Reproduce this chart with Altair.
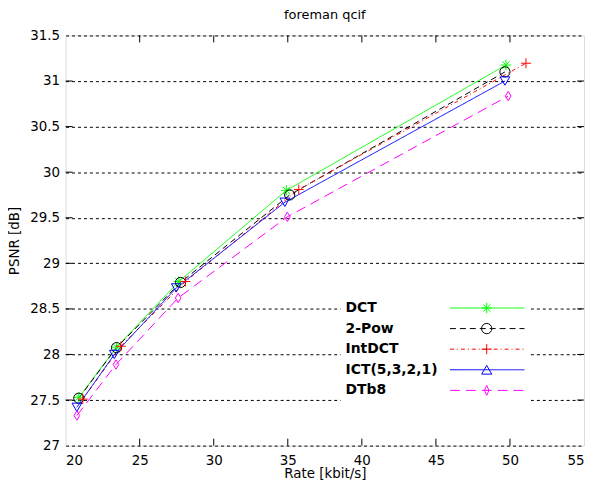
import altair as alt
import pandas as pd

# ---------------- data ----------------
methods = ["DCT", "2-Pow", "IntDCT", "ICT(5,3,2,1)", "DTb8"]
rate_dct = [20.90, 23.44, 27.64, 34.90, 49.73]
psnr_dct = [27.53, 28.08, 28.80, 29.80, 31.175]
rate_2pow = [20.89, 23.44, 27.76, 35.13, 49.66]
psnr_2pow = [27.52, 28.075, 28.79, 29.75, 31.10]
rate_int = [21.16, 23.73, 28.09, 35.74, 51.08]
psnr_int = [27.51, 28.09, 28.80, 29.81, 31.195]
rate_ict = [20.76, 23.29, 27.47, 34.80, 49.66]
psnr_ict = [27.42, 28.00, 28.73, 29.67, 31.00]
rate_dtb8 = [20.76, 23.40, 27.60, 34.97, 49.88]
psnr_dtb8 = [27.33, 27.89, 28.62, 29.51, 30.835]
x_ticks = [20, 25, 30, 35, 40, 45, 50, 55]
y_ticks = [27, 27.5, 28, 28.5, 29, 29.5, 30, 30.5, 31, 31.5]

series = [(rate_dct, psnr_dct), (rate_2pow, psnr_2pow), (rate_int, psnr_int),
          (rate_ict, psnr_ict), (rate_dtb8, psnr_dtb8)]
rows = []
for m, (rs, ps) in zip(methods, series):
    for r, p in zip(rs, ps):
        rows.append({"method": m, "rate": r, "psnr": p})
df = pd.DataFrame(rows)

# ---------------- styles ----------------
colors = ["#00ff00", "#000000", "#ff0000", "#0000ff", "#ff00ff"]
dashes = [[1, 0], [6, 4], [4, 3, 1, 3], [1, 0], [10, 6]]
star = "M-1,0L1,0M0,-1L0,1M-0.7,-0.7L0.7,0.7M-0.7,0.7L0.7,-0.7"
plus = "M-1,0L1,0M0,-1L0,1"
diam = "M0,-1L0.6,0L0,1L-0.6,0Z"
tall_diam = "M0,-1L0.45,0L0,1L-0.45,0Z"
plot_shapes = [star, "circle", plus, "triangle-down", diam]
plot_sizes = [110, 90, 120, 130, 160]
leg_shapes = [star, "circle", plus, "triangle-up", tall_diam]
leg_sizes = [110, 100, 170, 200, 480]

FONT = "DejaVu Sans"
W, H = 522, 413

xs = alt.Scale(domain=[20, 55], nice=False, zero=False)
ys = alt.Scale(domain=[27, 31.5], nice=False, zero=False)
color = alt.Color("method:N", scale=alt.Scale(domain=methods, range=colors), legend=None)
dash = alt.StrokeDash("method:N", scale=alt.Scale(domain=methods, range=dashes), legend=None)

x_enc = alt.X("rate:Q", scale=xs, axis=alt.Axis(
    values=x_ticks, ticks=False, domain=False, grid=False,
    labelFont=FONT, labelFontSize=13.5, labelColor="black", labelPadding=8,
    title="Rate [kbit/s]", titleFont=FONT, titleFontSize=13.5, titleFontWeight="normal",
    titleColor="black", titlePadding=0))
y_enc = alt.Y("psnr:Q", scale=ys, axis=alt.Axis(
    values=y_ticks, format="~g", ticks=False, domain=False, grid=True,
    gridDash=[3, 3], gridColor="black", gridOpacity=1, gridWidth=1,
    labelFont=FONT, labelFontSize=13.5, labelColor="black", labelPadding=6,
    title="PSNR [dB]", titleFont=FONT, titleFontSize=13.5, titleFontWeight="normal",
    titleColor="black", titlePadding=8))

lines = alt.Chart(df).mark_line(strokeWidth=1).encode(
    x=x_enc, y=y_enc, color=color, strokeDash=dash)

points = alt.Chart(df).mark_point(filled=False, strokeWidth=1, opacity=1).encode(
    x="rate:Q", y="psnr:Q", color=color,
    shape=alt.Shape("method:N", scale=alt.Scale(domain=methods, range=plot_shapes), legend=None),
    size=alt.Size("method:N", scale=alt.Scale(domain=methods, range=plot_sizes), legend=None))

# inward ticks on all four sides
xt = pd.DataFrame({"rate": x_ticks[1:-1]})
yt = pd.DataFrame({"psnr": y_ticks[1:-1]})
tick_b = alt.Chart(xt).mark_rule(color="black").encode(x="rate:Q", y=alt.value(H), y2=alt.value(H - 7))
tick_t = alt.Chart(xt).mark_rule(color="black").encode(x="rate:Q", y=alt.value(0), y2=alt.value(7))
tick_l = alt.Chart(yt).mark_rule(color="black").encode(y="psnr:Q", x=alt.value(0), x2=alt.value(7))
tick_r = alt.Chart(yt).mark_rule(color="black").encode(y="psnr:Q", x=alt.value(W), x2=alt.value(W - 7))

# ---------------- legend (in data coordinates) ----------------
leg_top, leg_step = 28.51, 0.226
leg = pd.DataFrame({"method": methods})
leg["ly"] = [leg_top - i * leg_step for i in range(len(methods))]
leg["lx"] = 38.9
leg["lx1"] = 45.95
leg["lx2"] = 50.98
leg["lxm"] = 48.43
box = pd.DataFrame({"x": [38.57], "x2": [51.38], "y": [27.425], "y2": [28.667]})

leg_box = alt.Chart(box).mark_rect(fill="white", stroke=None).encode(
    x="x:Q", x2="x2:Q", y="y:Q", y2="y2:Q")
leg_text = alt.Chart(leg).mark_text(align="left", baseline="middle", font=FONT,
                                    fontSize=14, fontWeight="bold", color="black").encode(
    x="lx:Q", y="ly:Q", text="method:N")
leg_line = alt.Chart(leg).mark_rule(strokeWidth=1).encode(
    x="lx1:Q", x2="lx2:Q", y="ly:Q", color=color, strokeDash=dash)
leg_pts = alt.Chart(leg).mark_point(filled=False, strokeWidth=1, opacity=1).encode(
    x="lxm:Q", y="ly:Q", color=color,
    shape=alt.Shape("method:N", scale=alt.Scale(domain=methods, range=leg_shapes), legend=None),
    size=alt.Size("method:N", scale=alt.Scale(domain=methods, range=leg_sizes), legend=None))

main = alt.layer(lines, points, tick_b, tick_t, tick_l, tick_r)
legend = alt.layer(leg_box, leg_line, leg_pts, leg_text).resolve_scale(shape="independent", size="independent")

chart = alt.layer(main, legend).resolve_scale(shape="independent", size="independent").properties(
    width=W, height=H,
    title=alt.Title("foreman qcif", font=FONT, fontSize=13, fontWeight="normal",
                    color="black", offset=7),
    autosize=alt.AutoSizeParams(type="none"),
    padding={"left": 58, "top": 26, "right": 4, "bottom": 35},
).configure_view(stroke="black", strokeWidth=1).configure(background="white")

chart.save("out.html", embed_options={"renderer": "svg", "actions": False})
